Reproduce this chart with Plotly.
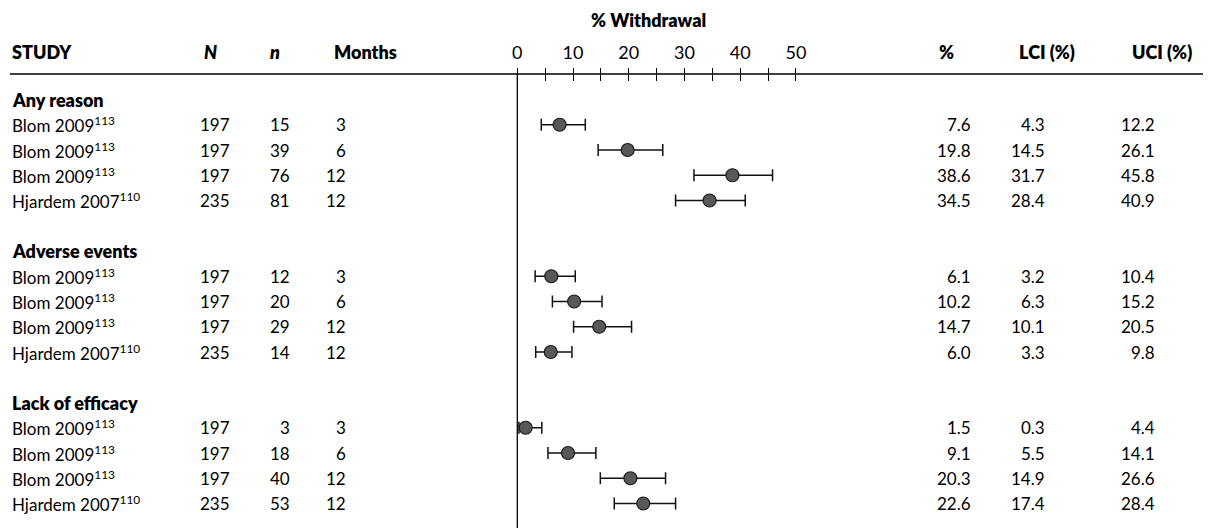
import plotly.graph_objects as go

# ---------------- data ----------------
sections = ["Any reason", "Adverse events", "Lack of efficacy"]
studies = ["Blom 2009<sup>113</sup>", "Blom 2009<sup>113</sup>", "Blom 2009<sup>113</sup>", "Hjardem 2007<sup>110</sup>"]
N_vals = [[197, 197, 197, 235], [197, 197, 197, 235], [197, 197, 197, 235]]
n_vals = [[15, 39, 76, 81], [12, 20, 29, 14], [3, 18, 40, 53]]
months = [[3, 6, 12, 12], [3, 6, 12, 12], [3, 6, 12, 12]]
pct = [[7.6, 19.8, 38.6, 34.5], [6.1, 10.2, 14.7, 6.0], [1.5, 9.1, 20.3, 22.6]]
lci = [[4.3, 14.5, 31.7, 28.4], [3.2, 6.3, 10.1, 3.3], [0.3, 5.5, 14.9, 17.4]]
uci = [[12.2, 26.1, 45.8, 40.9], [10.4, 15.2, 20.5, 9.8], [4.4, 14.1, 26.6, 28.4]]
major_ticks = [0, 10, 20, 30, 40, 50]
minor_ticks = [5, 15, 25, 35, 45]
headers = ["STUDY", "<i>N</i>", "<i>n</i>", "Months", "%", "LCI (%)", "UCI (%)"]
axis_title = "% Withdrawal"

# ---------------- layout helpers ----------------
W, H = 1211, 528
FONT = "Lato"
FS = 17      # body text
FSB = 18     # bold headings

def px(x):
    return x / W

def py(y):
    return 1 - y / H

# x-axis: data 0 at 517.3 px, 5.573 px per unit
x0px, scale = 517.3, 5.573
xrange = [-x0px / scale, (W - x0px) / scale]
# y slots: slot 0 at 99.5 px, 25.25 px per slot
y0px, slot = 99.5, 25.25
yrange = [(H - y0px) / slot, -y0px / slot]

bold_font = dict(size=FSB, color="black", family=FONT, weight=800)
body_font = dict(size=FS, color="black", family=FONT)

fig = go.Figure()

ys, xs, em, ep = [], [], [], []
annotations = []
for s, name in enumerate(sections):
    hy = s * 6
    annotations.append(dict(x=px(10), y=hy, xref="paper", yref="y", text=name,
                            xanchor="left", yanchor="middle", showarrow=False, font=bold_font))
    for i in range(4):
        ry = hy + 1 + i
        ys.append(ry)
        xs.append(pct[s][i])
        em.append(pct[s][i] - lci[s][i])
        ep.append(uci[s][i] - pct[s][i])
        cells = [
            (10, studies[i], "left"),
            (232, str(N_vals[s][i]), "right"),
            (292, str(n_vals[s][i]), "right"),
            (348, str(months[s][i]), "right"),
            (973, f"{pct[s][i]:.1f}", "right"),
            (1047, f"{lci[s][i]:.1f}", "right"),
            (1157, f"{uci[s][i]:.1f}", "right"),
        ]
        for cx, t, anc in cells:
            annotations.append(dict(x=px(cx), y=ry, xref="paper", yref="y", text=t,
                                    xanchor=anc, yanchor="middle", showarrow=False, font=body_font))

fig.add_trace(go.Scatter(
    x=xs, y=ys, mode="markers",
    marker=dict(size=13, color="#58585a", line=dict(color="#1a1a1a", width=1.2)),
    error_x=dict(type="data", symmetric=False, array=ep, arrayminus=em,
                 color="#111111", thickness=1.5, width=6),
    showlegend=False, hoverinfo="skip", cliponaxis=False,
))

hdr_pos = [(10, "left"), (210, "center"), (275, "center"), (365, "center"),
           (946, "center"), (1047, "center"), (1162, "center")]
for (cx, anc), t in zip(hdr_pos, headers):
    annotations.append(dict(x=px(cx), y=py(52), xref="paper", yref="paper", text=t,
                            xanchor=anc, yanchor="middle", showarrow=False, font=bold_font))
annotations.append(dict(x=px(648), y=py(20), xref="paper", yref="paper", text=axis_title,
                        xanchor="center", yanchor="middle", showarrow=False, font=bold_font))

shapes = [
    dict(type="line", xref="paper", yref="paper", x0=px(10), x1=px(1203), y0=py(74), y1=py(74),
         line=dict(color="black", width=1.3)),
    dict(type="line", xref="x", yref="paper", x0=0, x1=0, y0=0, y1=py(74),
         line=dict(color="black", width=1.3)),
]

axis_common = dict(range=xrange, showgrid=False, zeroline=False, showline=False,
                   anchor="free", position=py(74), side="top",
                   tickmode="array", tickvals=major_ticks + minor_ticks,
                   ticklen=6, tickwidth=1.2, tickcolor="black")

fig.update_layout(
    width=W, height=H,
    margin=dict(l=0, r=0, t=0, b=0),
    paper_bgcolor="white", plot_bgcolor="white",
    xaxis=dict(**axis_common, ticks="outside", ticklabelstandoff=2,
               ticktext=[str(v) for v in major_ticks] + [""] * len(minor_ticks),
               tickfont=dict(size=FSB, family=FONT, color="black")),
    xaxis2=dict(**axis_common, ticks="inside", overlaying="x", showticklabels=False),
    yaxis=dict(range=yrange, visible=False),
    annotations=annotations, shapes=shapes,
)
fig.add_trace(go.Scatter(x=[0], y=[0], xaxis="x2", mode="markers",
                         marker=dict(opacity=0), showlegend=False, hoverinfo="skip"))

fig.write_html("out.html")
